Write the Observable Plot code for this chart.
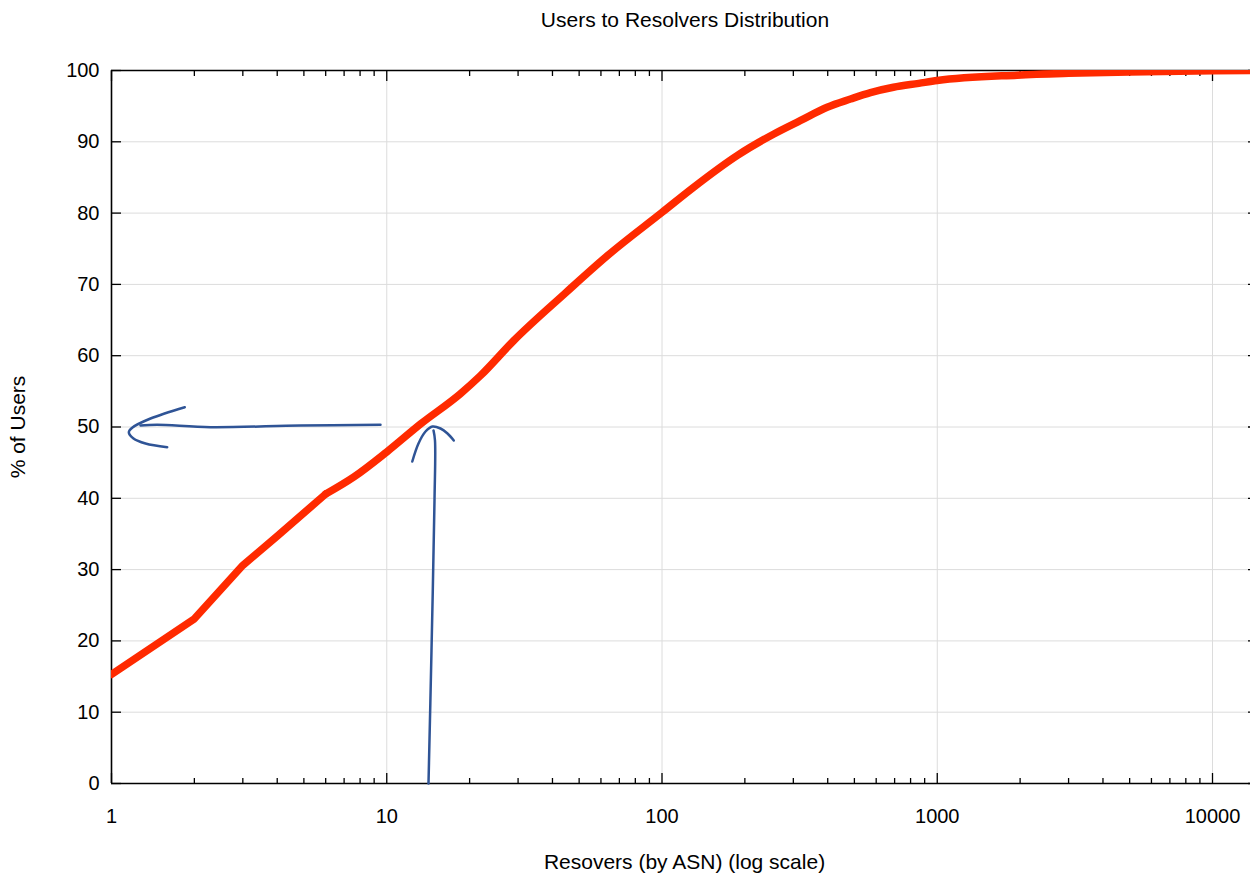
<!DOCTYPE html>
<html>
<head>
<meta charset="utf-8">
<script src="https://cdn.jsdelivr.net/npm/d3@7"></script>
<script src="https://cdn.jsdelivr.net/npm/@observablehq/plot@0.6"></script>
<style>
  html, body { margin: 0; padding: 0; background: #fff; }
  body { width: 1250px; height: 875px; overflow: hidden; font-family: "Liberation Sans", Arial, sans-serif; }
  #title { height: 40px; line-height: 40px; font-size: 21px; text-align: center; padding-left: 120px; color: #000; }
</style>
</head>
<body>
<div id="title">Users to Resolvers Distribution</div>
<div id="chart"></div>
<script>
// Cumulative % of users vs number of resolvers (ASNs)
const resolvers = [1, 2, 3, 4, 6, 7.6, 10, 13.3, 18.5, 21.9, 28.9, 44.6, 63.2, 100, 130, 188, 255, 319, 398, 484, 572, 693, 857, 1000, 1951, 3000, 5000, 10000, 14500];
const pctUsers  = [15.3, 23.1, 30.6, 34.7, 40.6, 43.0, 46.5, 50.45, 54.65, 57.2, 62.1, 68.8, 74.0, 80.1, 83.6, 88.1, 91.1, 93.0, 94.85, 96.0, 96.9, 97.65, 98.2, 98.6, 99.35, 99.6, 99.8, 99.95, 100];

// Hand-drawn blue annotation arrows (data coordinates)
const arrowLeftShaftX = [9.49, 4.86, 2.29, 1.466, 1.274];
const arrowLeftShaftY = [50.31, 50.21, 49.97, 50.31, 50.21];
const arrowLeftHeadX  = [1.846, 1.386, 1.192, 1.156, 1.202, 1.329, 1.594];
const arrowLeftHeadY  = [52.78, 51.19, 49.93, 49.27, 48.39, 47.69, 47.17];
const arrowUpShaftX   = [14.18, 14.54, 14.91, 14.97, 14.79];
const arrowUpShaftY   = [0, 18.65, 39.69, 48.11, 49.51];
const arrowUpHeadX    = [12.38, 13.04, 13.83, 14.66, 15.68, 16.62, 17.52];
const arrowUpHeadY    = [45.16, 47.69, 49.37, 50.07, 49.79, 49.09, 48.11];

// Axis ticks
const xDomain = [1, 14570];
const xMajorTicks = [1, 10, 100, 1000, 10000];
const xMinorMultipliers = [2, 3, 4, 5, 6, 7, 8, 9];
const yTicks = [0, 10, 20, 30, 40, 50, 60, 70, 80, 90, 100];

const xTitle = "Resovers (by ASN) (log scale)";
const yTitle = "% of Users";

const xMinorTicks = xMajorTicks.flatMap(d => xMinorMultipliers.map(k => k * d)).filter(v => v < xDomain[1]);
const curve = resolvers.map((x, i) => ({x, y: pctUsers[i]}));
const curveLow = curve.filter(d => d.x <= 6);   // drawn with straight segments (kinked in the original)
const curveHigh = curve.filter(d => d.x >= 6);  // drawn smoothly
const toPts = (xs, ys, id) => xs.map((x, i) => ({x, y: ys[i], id}));
const arrows = [
  ...toPts(arrowLeftShaftX, arrowLeftShaftY, "ls"),
  ...toPts(arrowLeftHeadX, arrowLeftHeadY, "lh"),
  ...toPts(arrowUpShaftX, arrowUpShaftY, "us"),
  ...toPts(arrowUpHeadX, arrowUpHeadY, "uh")
];

const gridColor = "#dcdcdc";
const lineColor = "#ff2a00";
const chart = Plot.plot({
  width: 1250,
  height: 835,
  marginTop: 30,
  marginBottom: 92,
  marginLeft: 111,
  marginRight: -7,
  style: {fontFamily: "'Liberation Sans', Arial, sans-serif", fontSize: "20px", color: "#000", background: "#fff"},
  x: {type: "log", domain: xDomain},
  y: {domain: [0, 100]},
  marks: [
    Plot.gridY(yTicks.slice(1, -1), {stroke: gridColor, strokeOpacity: 1, strokeWidth: 1}),
    Plot.gridX(xMajorTicks.slice(1), {stroke: gridColor, strokeOpacity: 1, strokeWidth: 1}),
    Plot.ruleX([xDomain[0]], {stroke: "#000", strokeWidth: 1.6}),
    Plot.ruleY([0, 100], {stroke: "#000", strokeWidth: 1.6}),
    // inward tick marks
    Plot.axisX(xMinorTicks, {anchor: "bottom", tickSize: -5, fill: "none", label: null, strokeWidth: 1.3}),
    Plot.axisX(xMajorTicks, {anchor: "bottom", tickSize: -10, fill: "none", label: null, strokeWidth: 1.3}),
    Plot.axisX(xMinorTicks, {anchor: "top", tickSize: -5, fill: "none", label: null, strokeWidth: 1.3}),
    Plot.axisX(xMajorTicks, {anchor: "top", tickSize: -10, fill: "none", label: null, strokeWidth: 1.3}),
    Plot.axisY(yTicks, {anchor: "left", tickSize: -10, fill: "none", label: null, strokeWidth: 1.3}),
    Plot.axisY(yTicks, {anchor: "right", tickSize: -10, fill: "none", label: null, strokeWidth: 1.3}),
    // tick labels
    Plot.axisX(xMajorTicks, {anchor: "bottom", tickSize: 0, tickPadding: 25, fontSize: 20, label: null, tickFormat: d => String(d)}),
    Plot.axisY(yTicks, {anchor: "left", tickSize: 0, tickPadding: 12, fontSize: 20, label: null}),
    // axis titles
    Plot.text([xTitle], {frameAnchor: "bottom", dy: 79, fontSize: 21, lineAnchor: "middle", textAnchor: "middle"}),
    Plot.text([yTitle], {frameAnchor: "left", dx: -93, rotate: -90, fontSize: 21, lineAnchor: "middle", textAnchor: "middle"}),
    // data
    Plot.line(curveLow, {x: "x", y: "y", stroke: lineColor, strokeWidth: 7.5, strokeLinejoin: "round", clip: true}),
    Plot.line(curveHigh, {x: "x", y: "y", stroke: lineColor, strokeWidth: 7.5, strokeLinejoin: "round", curve: "monotone-x", clip: true}),
    // annotations
    Plot.line(arrows, {x: "x", y: "y", z: "id", stroke: "#2f5496", strokeWidth: 2.5, curve: "catmull-rom", strokeLinecap: "round"})
  ]
});
document.getElementById("chart").appendChild(chart);
</script>
</body>
</html>
